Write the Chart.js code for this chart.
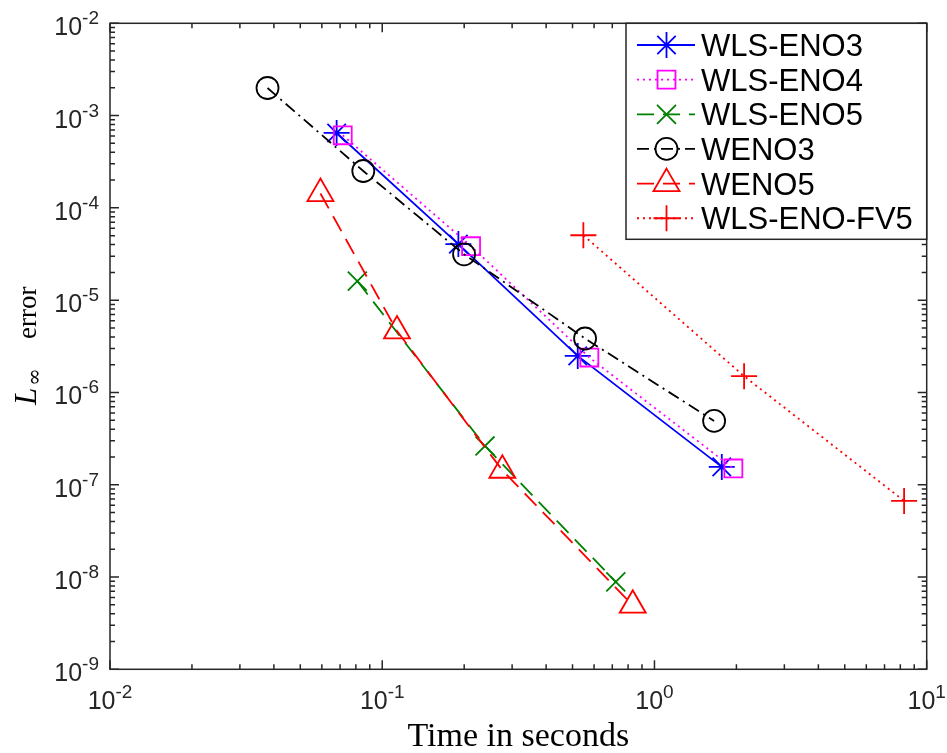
<!DOCTYPE html>
<html>
<head>
<meta charset="utf-8">
<script src="https://cdn.jsdelivr.net/npm/chart.js@4.4.1/dist/chart.umd.min.js"></script>
<style>
  html, body { margin: 0; padding: 0; background: #ffffff; }
  #wrap { width: 947px; height: 753px; }
</style>
</head>
<body>
<div id="wrap"><canvas id="c" width="947" height="753"></canvas></div>
<script>
// Run time (s) versus L-infinity error for each scheme
const wlsEno3Time = [0.0680, 0.1904, 0.5226, 1.767];
const wlsEno3Err  = [6.48e-4, 4.05e-5, 2.49e-6, 1.56e-7];

const wlsEno4Time = [0.0716, 0.2120, 0.5765, 1.949];
const wlsEno4Err  = [6.12e-4, 3.84e-5, 2.39e-6, 1.50e-7];

const wlsEno5Time = [0.0810, 0.2385, 0.721];
const wlsEno5Err  = [1.61e-5, 2.63e-7, 8.85e-9];

const weno3Time = [0.0379, 0.0852, 0.1998, 0.556, 1.656];
const weno3Err  = [1.99e-3, 2.51e-4, 3.14e-5, 3.84e-6, 4.91e-7];

const weno5Time = [0.0593, 0.1133, 0.2762, 0.832];
const weno5Err  = [1.43e-4, 4.64e-6, 1.435e-7, 4.95e-9];

const wlsEnoFv5Time = [0.548, 2.134, 8.26];
const wlsEnoFv5Err  = [5.05e-5, 1.50e-6, 6.68e-8];

// Decade ticks and their exponent labels
const xTickValues = [1e-2, 1e-1, 1e0, 1e1];
const xTickExps   = ['-2', '-1', '0', '1'];
const yTickValues = [1e-9, 1e-8, 1e-7, 1e-6, 1e-5, 1e-4, 1e-3, 1e-2];
const yTickExps   = ['-9', '-8', '-7', '-6', '-5', '-4', '-3', '-2'];

const seriesNames = ['WLS-ENO3', 'WLS-ENO4', 'WLS-ENO5', 'WENO3', 'WENO5', 'WLS-ENO-FV5'];

const pts = (xs, ys) => xs.map((v, i) => ({ x: v, y: ys[i] }));

const styles = [
  { color: '#0000ff', dash: [],             point: 'star',     r: 13 },
  { color: '#ff00ff', dash: [2, 4],         point: 'rect',     r: 12.7 },
  { color: '#008000', dash: [17, 9],        point: 'crossRot', r: 13.4 },
  { color: '#000000', dash: [12, 5, 2, 5],  point: 'circle',   r: 11 },
  { color: '#ff0000', dash: [17, 9],        point: 'triangle', r: 15 },
  { color: '#ff0000', dash: [2, 4],         point: 'cross',    r: 13 }
];

const seriesData = [
  pts(wlsEno3Time, wlsEno3Err),
  pts(wlsEno4Time, wlsEno4Err),
  pts(wlsEno5Time, wlsEno5Err),
  pts(weno3Time, weno3Err),
  pts(weno5Time, weno5Err),
  pts(wlsEnoFv5Time, wlsEnoFv5Err)
];

const LW = 1.8;
const AXIS = '#262626';

const datasets = seriesData.map((d, i) => ({
  label: seriesNames[i],
  data: d,
  order: seriesNames.length - i,
  borderColor: styles[i].color,
  borderWidth: LW,
  borderDash: styles[i].dash,
  backgroundColor: 'rgba(0,0,0,0)',
  pointStyle: styles[i].point,
  pointRadius: styles[i].r,
  pointHoverRadius: styles[i].r,
  pointBorderColor: styles[i].color,
  pointBackgroundColor: 'rgba(0,0,0,0)',
  pointBorderWidth: LW,
  tension: 0,
  fill: false
}));

function drawPow(ctx, exp, x, yBase, ySup, align) {
  const baseFont = '25px "Liberation Sans", Arial, Helvetica, sans-serif';
  const supFont = '19px "Liberation Sans", Arial, Helvetica, sans-serif';
  ctx.font = baseFont;
  const w1 = ctx.measureText('10').width;
  ctx.font = supFont;
  const w2 = ctx.measureText(exp).width;
  const total = w1 + w2;
  let start = align === 'right' ? x - total : x - total / 2;
  ctx.textAlign = 'left';
  ctx.textBaseline = 'alphabetic';
  ctx.font = baseFont;
  ctx.fillText('10', start, yBase);
  ctx.font = supFont;
  ctx.fillText(exp, start + w1, ySup);
}

const framePlugin = {
  id: 'frame',
  afterDraw(chart) {
    const { ctx, chartArea: a, scales } = chart;
    const xs = scales.x, ys = scales.y;
    ctx.save();
    ctx.setLineDash([]);

    // axes box
    ctx.strokeStyle = AXIS;
    ctx.lineWidth = 1.5;
    ctx.strokeRect(a.left, a.top, a.right - a.left, a.bottom - a.top);

    // ticks pointing inward on all four sides
    ctx.beginPath();
    xTickValues.forEach((d, k) => {
      const mults = k < xTickValues.length - 1 ? [1, 2, 3, 4, 5, 6, 7, 8, 9] : [1];
      mults.forEach(m => {
        const px = xs.getPixelForValue(d * m);
        const len = m === 1 ? 9 : 5;
        ctx.moveTo(px, a.bottom); ctx.lineTo(px, a.bottom - len);
        ctx.moveTo(px, a.top); ctx.lineTo(px, a.top + len);
      });
    });
    yTickValues.forEach((d, k) => {
      const mults = k < yTickValues.length - 1 ? [1, 2, 3, 4, 5, 6, 7, 8, 9] : [1];
      mults.forEach(m => {
        const py = ys.getPixelForValue(d * m);
        const len = m === 1 ? 9 : 5;
        ctx.moveTo(a.left, py); ctx.lineTo(a.left + len, py);
        ctx.moveTo(a.right, py); ctx.lineTo(a.right - len, py);
      });
    });
    ctx.stroke();

    // tick labels
    ctx.fillStyle = AXIS;
    xTickValues.forEach((v, i) => {
      const px = xs.getPixelForValue(v);
      drawPow(ctx, xTickExps[i], px, a.bottom + 40, a.bottom + 29, 'center');
    });
    yTickValues.forEach((v, i) => {
      const py = ys.getPixelForValue(v);
      drawPow(ctx, yTickExps[i], a.left - 11, py + 12, py + 1, 'right');
    });

    // x-axis title
    ctx.fillStyle = '#000000';
    ctx.font = '34px "Liberation Serif", "Times New Roman", serif';
    ctx.textAlign = 'center';
    ctx.textBaseline = 'alphabetic';
    ctx.fillText('Time in seconds', (a.left + a.right) / 2, 746);

    // y-axis title: L_inf error
    ctx.save();
    ctx.translate(36, 405);
    ctx.rotate(-Math.PI / 2);
    ctx.textAlign = 'left';
    ctx.font = 'italic 31px "Liberation Serif", "Times New Roman", serif';
    ctx.fillText('L', 0, 0);
    const lw = ctx.measureText('L').width;
    ctx.font = '21px "DejaVu Serif", "Liberation Serif", serif';
    ctx.fillText('\u221E', lw + 2, 5);
    ctx.font = '27px "Liberation Serif", "Times New Roman", serif';
    ctx.fillText('error', 66, 0);
    ctx.restore();

    // legend
    const lx0 = 626, ly0 = 23.3, lx1 = a.right, ly1 = 239.3;
    ctx.fillStyle = '#ffffff';
    ctx.fillRect(lx0, ly0, lx1 - lx0, ly1 - ly0);
    ctx.strokeStyle = AXIS;
    ctx.lineWidth = 1.5;
    ctx.strokeRect(lx0, ly0, lx1 - lx0, ly1 - ly0);
    const rowStart = 45, rowGap = 34.65;
    seriesNames.forEach((name, i) => {
      const st = styles[i];
      const cy = rowStart + i * rowGap;
      ctx.strokeStyle = st.color;
      ctx.lineWidth = LW;
      ctx.setLineDash(st.dash);
      ctx.beginPath();
      ctx.moveTo(637, cy);
      ctx.lineTo(695, cy);
      ctx.stroke();
      ctx.setLineDash([]);
      ctx.fillStyle = 'rgba(0,0,0,0)';
      ctx.beginPath();
      Chart.helpers.drawPoint(ctx, { pointStyle: st.point, rotation: 0, radius: st.r, borderWidth: LW }, 666.5, cy);
      ctx.fillStyle = '#000000';
      ctx.font = '31px "Liberation Sans", Arial, Helvetica, sans-serif';
      ctx.textAlign = 'left';
      ctx.textBaseline = 'alphabetic';
      ctx.fillText(name, 701, cy + 11);
    });
    ctx.restore();
  }
};

new Chart(document.getElementById('c'), {
  type: 'line',
  data: { datasets },
  options: {
    responsive: false,
    animation: false,
    devicePixelRatio: 1,
    layout: { padding: { left: 110, right: 20.3, top: 23.3, bottom: 83.7 } },
    plugins: { legend: { display: false }, tooltip: { enabled: false } },
    events: [],
    scales: {
      x: { type: 'logarithmic', min: 0.01, max: 10, display: false },
      y: { type: 'logarithmic', min: 1e-9, max: 1e-2, display: false }
    }
  },
  plugins: [framePlugin]
});
</script>
</body>
</html>
